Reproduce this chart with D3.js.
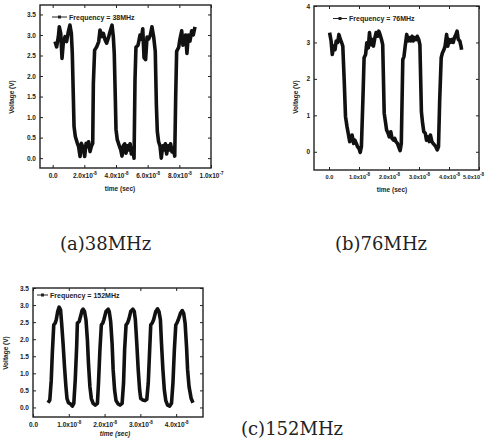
<!DOCTYPE html>
<meta charset="utf-8">
<head>
    <title>Square wave output</title>
    <script src="https://d3js.org/d3.v7.min.js"></script>
</head>
<style type="text/css">
body{
    margin: 0;
    background: #FFFFFF;
}
.tick text, .lbl{
    font-family: "Liberation Sans", Arial, sans-serif;
    font-weight: bold;
    font-size: 6.5px;
    fill: #222;
}
.caption{
    font-family: "DejaVu Serif", serif;
    font-size: 18px;
    fill: #222;
}
</style>
<body>
<svg id="chart" width="485" height="442"></svg>
<script type="text/javascript">
// time in units of 1e-8 s, voltage in V
var timeA = [0.15,0.25,0.36,0.42,0.51,0.59,0.67,0.78,0.88,0.99,1.09,1.18,1.24,1.31,1.35,1.43,1.56,1.64,1.73,1.81,1.94,2.02,2.11,2.19,2.27,2.36,2.44,2.53,2.57,2.65,2.78,2.91,2.99,3.12,3.20,3.31,3.41,3.54,3.62,3.75,3.83,3.89,3.96,4.00,4.08,4.21,4.30,4.38,4.46,4.55,4.63,4.72,4.80,4.89,4.97,5.05,5.14,5.20,5.26,5.39,5.52,5.60,5.69,5.77,5.87,5.96,6.06,6.17,6.27,6.38,6.48,6.55,6.61,6.69,6.78,6.86,6.95,7.03,7.12,7.20,7.28,7.37,7.45,7.54,7.62,7.71,7.77,7.83,7.96,8.04,8.15,8.23,8.32,8.40,8.48,8.57,8.67,8.78,8.88,8.99];
var voltA = [2.84,2.71,2.96,3.20,3.04,2.43,2.80,2.96,2.84,3.08,3.24,3.04,2.55,1.42,0.77,0.53,0.36,0.28,0.04,0.36,0.24,0.04,0.36,0.28,0.40,0.16,0.28,0.36,1.82,2.63,2.71,2.84,3.12,2.96,3.04,2.88,2.80,2.96,3.08,3.24,2.96,2.55,1.40,0.70,0.45,0.30,0.20,0.05,0.30,0.35,0.12,0.30,0.20,0.35,0.10,0.25,0.00,1.90,2.70,2.75,3.00,2.90,3.15,2.45,2.40,2.95,2.90,3.00,3.20,2.95,2.60,1.30,0.65,0.40,0.30,0.00,0.30,0.20,0.35,0.10,0.30,0.20,0.35,0.15,0.25,0.05,1.50,2.60,2.70,2.90,3.10,2.75,2.85,3.00,2.55,3.00,2.85,3.10,3.00,3.20];

var timeB = [0.02,0.07,0.11,0.15,0.20,0.24,0.29,0.33,0.38,0.42,0.46,0.51,0.55,0.60,0.64,0.69,0.73,0.77,0.82,0.86,0.91,0.95,1.00,1.04,1.08,1.13,1.17,1.22,1.26,1.31,1.35,1.39,1.44,1.48,1.53,1.57,1.62,1.66,1.70,1.75,1.79,1.84,1.88,1.92,1.97,2.01,2.06,2.10,2.15,2.19,2.23,2.28,2.32,2.37,2.41,2.46,2.50,2.54,2.59,2.63,2.68,2.72,2.77,2.81,2.85,2.90,2.94,2.99,3.03,3.08,3.12,3.16,3.21,3.25,3.30,3.34,3.38,3.43,3.47,3.52,3.56,3.61,3.65,3.69,3.74,3.78,3.83,3.87,3.92,3.96,4.00,4.05,4.09,4.14,4.18,4.23,4.27,4.31,4.36,4.40,4.42];
var voltB = [3.27,3.04,2.67,2.90,2.80,3.04,3.00,3.22,3.08,3.00,2.90,1.89,0.97,0.69,0.51,0.28,0.32,0.46,0.23,0.32,0.23,0.14,0.09,-0.02,0.14,1.43,2.58,2.67,2.99,2.85,3.27,2.94,3.08,2.90,3.13,3.27,3.17,3.31,3.22,3.08,2.94,1.06,0.83,0.60,0.51,0.41,0.55,0.37,0.32,0.37,0.28,0.23,0.14,0.03,0.23,2.53,2.62,2.90,3.22,3.04,3.13,3.04,3.17,3.04,3.13,3.08,3.17,3.08,2.94,1.10,0.78,0.55,0.51,0.32,0.41,0.28,0.46,0.28,0.23,0.18,0.14,0.05,0.14,1.43,2.58,2.71,2.80,2.90,3.22,2.90,3.08,3.00,3.08,3.00,3.13,3.22,3.31,3.08,3.04,2.90,2.80];

var timeC = [0.42,0.47,0.51,0.54,0.58,0.62,0.65,0.69,0.73,0.77,0.80,0.84,0.88,0.92,0.95,0.99,1.05,1.10,1.14,1.18,1.22,1.24,1.29,1.33,1.37,1.40,1.44,1.48,1.52,1.55,1.59,1.63,1.68,1.74,1.80,1.83,1.87,1.91,1.95,1.98,2.04,2.10,2.13,2.17,2.21,2.24,2.28,2.32,2.38,2.43,2.49,2.53,2.56,2.60,2.64,2.68,2.73,2.79,2.83,2.86,2.90,2.94,2.98,3.01,3.07,3.13,3.18,3.22,3.26,3.29,3.33,3.37,3.43,3.48,3.52,3.56,3.59,3.63,3.67,3.71,3.76,3.82,3.87,3.91,3.95,3.99,4.02,4.06,4.12,4.17,4.21,4.25,4.29,4.32,4.36,4.42,4.47];
var voltC = [0.14,0.22,0.80,1.59,2.42,2.47,2.57,2.81,2.94,2.86,2.47,1.88,1.20,0.61,0.26,0.14,0.10,0.04,0.12,0.80,1.78,2.47,2.52,2.67,2.84,2.88,2.81,2.57,1.98,1.29,0.61,0.26,0.12,0.07,0.12,0.71,1.69,2.42,2.47,2.57,2.81,2.88,2.81,2.52,1.88,1.10,0.51,0.20,0.10,0.07,0.12,0.71,1.69,2.42,2.47,2.59,2.81,2.88,2.81,2.57,1.88,1.10,0.51,0.26,0.22,0.20,0.24,0.71,1.69,2.42,2.47,2.57,2.81,2.89,2.81,2.57,1.88,1.10,0.51,0.20,0.07,0.04,0.12,0.71,1.69,2.42,2.47,2.57,2.76,2.84,2.76,2.47,1.78,1.10,0.61,0.26,0.14];

// tick values and labels
var yTicksA = [0, 0.5, 1, 1.5, 2, 2.5, 3, 3.5];
var yLabelsA = ["0.0","0.5","1.0","1.5","2.0","2.5","3.0","3.5"];
var xTicksA = [0, 2, 4, 6, 8, 10];
var xLabelsA = [["0.0",""],["2.0x10","-8"],["4.0x10","-8"],["6.0x10","-8"],["8.0x10","-8"],["1.0x10","-7"]];

var yTicksB = [0, 1, 2, 3, 4];
var yLabelsB = ["0","1","2","3","4"];
var xTicksB = [0, 1, 2, 3, 4, 5];
var xLabelsB = [["0.0",""],["1.0x10","-8"],["2.0x10","-8"],["3.0x10","-8"],["4.0x10","-8"],["5.0x10","-8"]];

var yTicksC = [0, 0.5, 1, 1.5, 2, 2.5, 3, 3.5];
var yLabelsC = ["0.0","0.5","1.0","1.5","2.0","2.5","3.0","3.5"];
var xTicksC = [0, 1, 2, 3, 4];
var xLabelsC = [["0.0",""],["1.0x10","-8"],["2.0x10","-8"],["3.0x10","-8"],["4.0x10","-8"]];

var svg = d3.select("#chart");

function drawPanel(p) {
    var x = d3.scaleLinear().domain(p.xDom).range([p.left, p.right]);
    var y = d3.scaleLinear().domain(p.yDom).range([p.bottom, p.top]);
    var g = svg.append("g");

    // bottom axis with superscript labels
    var gx = g.append("g")
        .attr("transform", "translate(0," + p.bottom + ")")
        .call(d3.axisBottom(x).tickValues(p.xTicks).tickSize(-3).tickPadding(5).tickFormat(function(d, i) { return p.xLabels[i][0]; }));
    gx.selectAll(".tick text").each(function(d, i) {
        var lab = p.xLabels[i];
        var t = d3.select(this);
        if (p.xFont) t.style("font-size", p.xFont);
        if (lab[1]) {
            t.append("tspan")
                .attr("dy", -2.5)
                .style("font-size", "4.5px")
                .text(lab[1]);
        }
        // keep the last label inside the window
        if (p.lastShift && i === p.xTicks.length - 1) {
            t.attr("dx", p.lastShift);
        }
    });
    g.append("g")
        .attr("transform", "translate(0," + p.top + ")")
        .call(d3.axisTop(x).tickValues(p.xTicks).tickSize(-3).tickFormat(""));

    g.append("g")
        .attr("transform", "translate(" + p.left + ",0)")
        .call(d3.axisLeft(y).tickValues(p.yTicks).tickSize(-3).tickPadding(4).tickFormat(function(d, i) { return p.yLabels[i]; }));
    g.append("g")
        .attr("transform", "translate(" + p.right + ",0)")
        .call(d3.axisRight(y).tickValues(p.yTicks).tickSize(-3).tickFormat(""));

    g.selectAll(".domain").remove();
    g.selectAll(".tick line").attr("stroke", "#222").attr("stroke-width", 1);

    g.append("rect")
        .attr("x", p.left).attr("y", p.top)
        .attr("width", p.right - p.left).attr("height", p.bottom - p.top)
        .attr("fill", "none").attr("stroke", "#222").attr("stroke-width", 1.4);

    var line = d3.line()
        .x(function(d, i) { return x(p.t[i]); })
        .y(function(d) { return y(d); });
    g.append("path")
        .datum(p.v)
        .attr("d", line)
        .attr("fill", "none")
        .attr("stroke", "#111")
        .attr("stroke-width", 3.6)
        .attr("stroke-linejoin", "round");

    // legend
    g.append("line")
        .attr("x1", p.leg[0]).attr("x2", p.leg[0] + p.leg[2])
        .attr("y1", p.leg[1]).attr("y2", p.leg[1])
        .attr("stroke", "#222").attr("stroke-width", 1);
    g.append("rect")
        .attr("x", p.leg[0] + p.leg[2] / 2 - 1.5).attr("y", p.leg[1] - 1.5)
        .attr("width", 3).attr("height", 3).attr("fill", "#222");
    g.append("text").attr("class", "lbl")
        .attr("x", p.leg[0] + p.leg[2] + 2).attr("y", p.leg[1] + 2.5)
        .style("font-size", "7px")
        .text(p.legText);

    // axis titles
    g.append("text").attr("class", "lbl")
        .attr("transform", "translate(" + p.yt[0] + "," + p.yt[1] + ") rotate(-90)")
        .attr("text-anchor", "middle")
        .text("Voltage (V)");
    g.append("text").attr("class", "lbl")
        .attr("x", p.xt[0]).attr("y", p.xt[1])
        .attr("text-anchor", "middle")
        .style("font-style", p.italic ? "italic" : "normal")
        .text("time (sec)");

    svg.append("text").attr("class", "caption")
        .attr("x", p.cap[0]).attr("y", p.cap[1])
        .text(p.capText);
}

drawPanel({t: timeA, v: voltA, xDom: [-0.8, 10], yDom: [-0.24, 3.73],
    left: 40, right: 211, top: 5, bottom: 168,
    xTicks: xTicksA, xLabels: xLabelsA, yTicks: yTicksA, yLabels: yLabelsA,
    leg: [52, 17, 15], legText: "Frequency = 38MHz",
    yt: [14, 97], xt: [120, 191], cap: [60, 250], capText: "(a)38MHz"});

drawPanel({t: timeB, v: voltB, xDom: [-0.5, 5], yDom: [-0.5, 4],
    left: 314, right: 479, top: 6, bottom: 170,
    xTicks: xTicksB, xLabels: xLabelsB, yTicks: yTicksB, yLabels: yLabelsB,
    xFont: "5.6px", lastShift: -6,
    leg: [333, 18.5, 14], legText: "Frequency = 76MHz",
    yt: [298, 97], xt: [392, 192], cap: [335, 250], capText: "(b)76MHz"});

drawPanel({t: timeC, v: voltC, xDom: [0, 4.75], yDom: [-0.28, 3.5],
    left: 33, right: 203, top: 288, bottom: 417,
    xTicks: xTicksC, xLabels: xLabelsC, yTicks: yTicksC, yLabels: yLabelsC,
    leg: [37, 295, 11], legText: "Frequency = 152MHz",
    yt: [8, 353], xt: [115, 436], italic: true, cap: [241, 435], capText: "(c)152MHz"});
</script>
</body>
